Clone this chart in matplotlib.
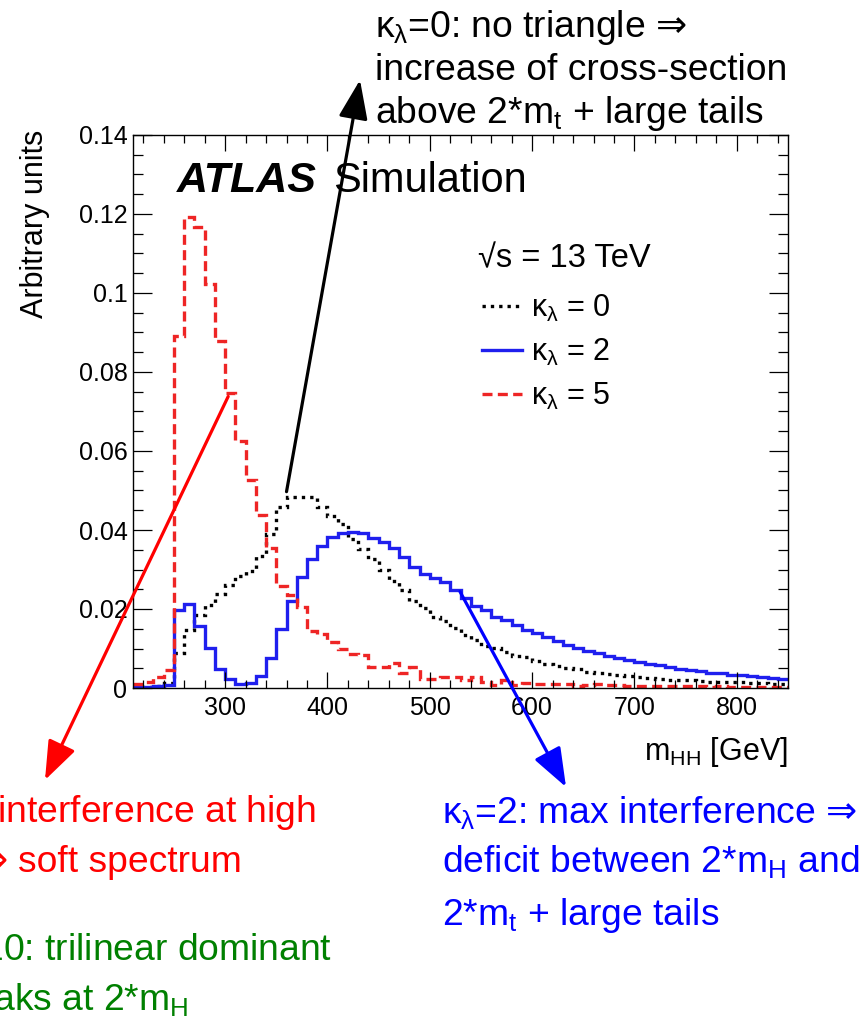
import numpy as np
import matplotlib
matplotlib.use('Agg')
import matplotlib.pyplot as plt
from matplotlib.ticker import MultipleLocator, FuncFormatter

plt.rcParams['font.family'] = ['Liberation Sans', 'DejaVu Sans']
plt.rcParams['mathtext.fontset'] = 'custom'
plt.rcParams['mathtext.rm'] = 'Liberation Sans'
plt.rcParams['mathtext.it'] = 'Liberation Sans'
plt.rcParams['mathtext.bf'] = 'Liberation Sans:bold'

# m_HH bin edges [GeV], 10 GeV bins from 210 to 850
edges = np.arange(210, 851, 10)

# normalised m_HH distributions for three values of kappa_lambda
kl0 = [0.0003, 0.0003, 0.0005, 0.0012,
       0.0088, 0.0147, 0.0185, 0.0211, 0.0239, 0.0262, 0.0283, 0.0296, 0.0334, 0.0390,
       0.0459, 0.0483, 0.0483, 0.0483, 0.0457, 0.0436, 0.0415, 0.0377, 0.0351, 0.0326,
       0.0300, 0.0270, 0.0249, 0.0220, 0.0203, 0.0181, 0.0170, 0.0151, 0.0135, 0.0122,
       0.0107, 0.0102, 0.0092, 0.0081, 0.0078, 0.0069, 0.0062, 0.0056, 0.0051, 0.0048,
       0.0041, 0.0039, 0.0035, 0.0033, 0.0030, 0.0027, 0.0025, 0.0023, 0.0021, 0.0020,
       0.0019, 0.0017, 0.0016, 0.0015, 0.0014, 0.0014, 0.0013, 0.0012, 0.0011, 0.0011]

kl2 = [0.0002, 0.0002, 0.0004, 0.0008,
       0.0197, 0.0213, 0.0156, 0.0101, 0.0049, 0.0023, 0.0009, 0.0013, 0.0031, 0.0076,
       0.0149, 0.0219, 0.0281, 0.0326, 0.0359, 0.0382, 0.0392, 0.0394, 0.0392, 0.0380,
       0.0370, 0.0354, 0.0332, 0.0307, 0.0288, 0.0278, 0.0268, 0.0247, 0.0228, 0.0208,
       0.0198, 0.0181, 0.0173, 0.0160, 0.0147, 0.0139, 0.0130, 0.0120, 0.0109, 0.0101,
       0.0094, 0.0088, 0.0081, 0.0077, 0.0071, 0.0067, 0.0062, 0.0058, 0.0053, 0.0049,
       0.0045, 0.0042, 0.0039, 0.0037, 0.0034, 0.0032, 0.0030, 0.0028, 0.0026, 0.0024]

kl5 = [0.0009, 0.0014, 0.0027, 0.0045,
       0.0890, 0.1193, 0.1168, 0.1022, 0.0879, 0.0746, 0.0625, 0.0527, 0.0437, 0.0355,
       0.0259, 0.0236, 0.0206, 0.0145, 0.0137, 0.0116, 0.0100, 0.0086, 0.0084, 0.0052,
       0.0052, 0.0064, 0.0037, 0.0052, 0.0024, 0.0022, 0.0028, 0.0028, 0.0020, 0.0028,
       0.0016, 0.0007, 0.0020, 0.0007, 0.0013, 0.0011, 0.0010, 0.0009, 0.0011, 0.0004,
       0.0007, 0.0011, 0.0007, 0.0007, 0.0006, 0.0006, 0.0005, 0.0006, 0.0004, 0.0005,
       0.0004, 0.0004, 0.0003, 0.0004, 0.0003, 0.0003, 0.0002, 0.0003, 0.0002, 0.0002]

labels = [r'$\kappa_\lambda$ = 0', r'$\kappa_\lambda$ = 2', r'$\kappa_\lambda$ = 5']

W, H = 863, 1022


def fpx(x, y):
    '''pixel position measured from top-left -> figure fraction'''
    return x / W, 1 - y / H


fig = plt.figure(figsize=(W / 100, H / 100), dpi=100)
renderer = fig.canvas.get_renderer()
ax = fig.add_axes([133 / W, 1 - 688 / H, 655 / W, 553 / H])

h0 = ax.stairs(kl0, edges, baseline=None, color='black', lw=2.4,
               linestyle=(0, (1, 1.5)), label=labels[0])
h2 = ax.stairs(kl2, edges, baseline=None, color='#1f1fee', lw=2.4,
               linestyle='-', label=labels[1])
h5 = ax.stairs(kl5, edges, baseline=None, color='#ee2525', lw=2.4,
               linestyle=(0, (3, 1.6)), label=labels[2])

ax.set_xlim(210, 850)
ax.set_ylim(0, 0.14)

# ROOT-like axes: ticks inside on all four sides
ax.xaxis.set_major_locator(MultipleLocator(100))
ax.xaxis.set_minor_locator(MultipleLocator(20))
ax.yaxis.set_major_locator(MultipleLocator(0.02))
ax.yaxis.set_minor_locator(MultipleLocator(0.005))
ax.yaxis.set_major_formatter(FuncFormatter(lambda v, p: '%g' % round(v, 3)))
ax.tick_params(which='both', direction='in', top=True, right=True, width=0.9, labelsize=18)
ax.tick_params(axis='y', which='major', length=13.5, pad=4)
ax.tick_params(axis='y', which='minor', length=7.5)
ax.tick_params(axis='x', which='major', length=11.5, pad=6)
ax.tick_params(axis='x', which='minor', length=6)
for s in ax.spines.values():
    s.set_linewidth(1.0)

ax.set_ylabel('Arbitrary units', loc='top', fontsize=22)
ax.yaxis.set_label_coords(-0.127, 1.01)
ax.set_xlabel(r'm$_{\rm HH}$ [GeV]', loc='right', fontsize=22)
ax.xaxis.set_label_coords(1.0, -0.085)

# experiment label
fig.text(*fpx(177, 192), 'ATLAS', fontsize=31, fontweight='bold', fontstyle='italic')
fig.text(*fpx(333, 192), 'Simulation', fontsize=30)

fig.text(*fpx(478, 267), '√s = 13 TeV', fontsize=23.5)
ax.legend(handles=[h0, h2, h5], loc='upper left', bbox_to_anchor=fpx(482, 293),
          bbox_transform=fig.transFigure, frameon=False, fontsize=22,
          handlelength=1.3, handletextpad=0.3, labelspacing=0.42, borderpad=0,
          borderaxespad=0)

# arrows from the curves to the explanations around the plot
arrow = '-|>,head_length=0.8,head_width=0.3'
ax.annotate('', xy=fpx(360, 80), xycoords='figure fraction',
            xytext=(360, 0.0497), textcoords='data',
            arrowprops=dict(arrowstyle=arrow, color='black', lw=2.3,
                            mutation_scale=30, shrinkA=0, shrinkB=0),
            annotation_clip=False)
ax.annotate('', xy=fpx(45, 780), xycoords='figure fraction',
            xytext=(303, kl5[9] - 0.0008), textcoords='data',
            arrowprops=dict(arrowstyle=arrow, color='red', lw=2.3,
                            mutation_scale=30, shrinkA=0, shrinkB=0),
            annotation_clip=False)
ax.annotate('', xy=fpx(566, 787), xycoords='figure fraction',
            xytext=(529.5, 0.0244), textcoords='data',
            arrowprops=dict(arrowstyle=arrow, color='blue', lw=2.3,
                            mutation_scale=30, shrinkA=0, shrinkB=0),
            annotation_clip=False)

fs = 26.8
gap = 0.278 * fs * 100 / 72   # width of a space


def put_line(parts, x, y, ha='left', **kw):
    '''write a line made of pieces (mathtext and plain text) one after another'''
    texts = [fig.text(0, 0, p, va='baseline', fontsize=fs, **kw) for p in parts]
    widths = [t.get_window_extent(renderer).width for t in texts]
    total = sum(widths) + gap * (len(parts) - 1)
    start = x - total if ha == 'right' else x
    for t, w in zip(texts, widths):
        t.set_position(fpx(start, y))
        start += w + gap


# kappa = 0
put_line([r'$\kappa_\lambda$=0: no triangle', '⇒'], 375, 37, color='black')
put_line(['increase of cross-section'], 375, 80, color='black')
put_line([r'above 2*m$_{\rm t}$ + large tails'], 375, 123, color='black')

# kappa = 5
put_line([r'$\kappa_\lambda$=5: large interference at high'], 316, 822, ha='right', color='red')
put_line([r'm$_{\rm HH}$', '⇒', 'soft spectrum'], 242, 872, ha='right', color='red')

# kappa = 10
put_line([r'$\kappa_\lambda$=10: trilinear dominant'], 332, 960, ha='right', color='green')
put_line(['⇒', r'peaks at 2*m$_{\rm H}$'], 188, 1010, ha='right', color='green')

# kappa = 2
put_line([r'$\kappa_\lambda$=2: max interference', '⇒'], 442, 823, color='blue')
put_line([r'deficit between 2*m$_{\rm H}$ and'], 442, 872, color='blue')
put_line([r'2*m$_{\rm t}$ + large tails'], 442, 925, color='blue')

fig.savefig('out.png', dpi=100)
